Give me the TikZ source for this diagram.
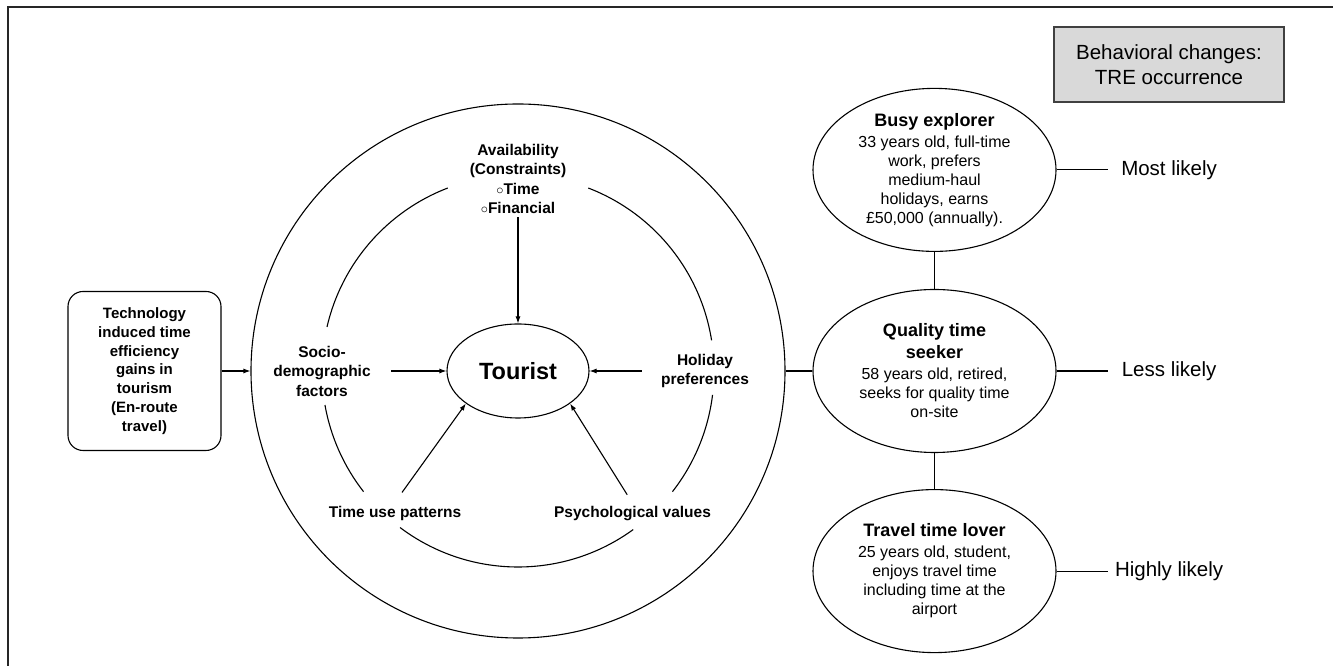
\documentclass[tikz,border=0pt]{standalone}
\usepackage{fontspec}
\setmainfont{Liberation Sans}
\usetikzlibrary{arrows.meta, shapes.geometric, positioning}
\tikzset{> = { Latex[length = 7pt, width = 5pt] }}
\newcommand{\fsz}[2]{\fontsize{#1}{#2}\selectfont}
\newcommand{\ptitle}[1]{{\fsz{18}{22}\bfseries #1}}

\begin{document}
\begin{tikzpicture}[x = 1pt, y = 1pt, line width = 1.1pt,
		factor/.style = { align = center, inner sep = 3pt, font = \fsz{15.5}{19.5}\bfseries },
		persona/.style = { draw, ellipse, minimum width = 243pt, minimum height = 163pt, inner sep = 0pt, align = center, font = \fsz{16}{19} },
		likely/.style = { minimum width = 122pt, inner sep = 0pt, align = center, font = \fsz{20.5}{25} }]
				\useasboundingbox (0,0) rectangle (1333,666);
				\draw [line width = 2pt, black!85] (8,0) -- (8,659) -- (1333,659);

				\node [draw, rounded corners = 15pt, minimum width = 153pt, minimum height = 159pt, align = center, font = \fsz{15}{18.8}\bfseries] (tech) at (144.5,295) {Technology\\induced time\\efficiency\\gains in\\tourism\\(En-route\\travel)};

				\node [draw, circle, minimum size = 534pt, inner sep = 0pt] (outer) at (518,295) {};
				\coordinate (hub) at (518,295);
				\foreach \a/\b in {9/69, 111/167, 190/218, 233/306, 322/353}
					\draw (hub) ++(\a:196) arc[start angle = \a, end angle = \b, radius = 196];

				\node [draw, ellipse, minimum width = 142pt, minimum height = 94pt, inner sep = 0pt, font = \fsz{23.5}{28}\bfseries] (tourist) at (518,295) {Tourist};

				\node [factor] (avail) at (518,487) {Availability\\(Constraints)\\$\circ$Time\\$\circ$Financial};
				\node [factor] (socio) at (322,295) {Socio-\\demographic\\factors};
				\node [factor] (holiday) at (705,295) {Holiday\\preferences};
				\node [factor] (timeuse) at (395,153) {Time use patterns};
				\node [factor] (psych) at (632.5,152) {Psychological values};

				\draw [->] (tech) -- (outer);
				\draw [->] (avail) -- (tourist);
				\draw [->, shorten <= 17pt] (socio) -- (tourist);
				\draw [->, shorten <= 16pt] (holiday) -- (tourist);
				\draw [->, shorten <= 12pt] (timeuse.north) -- (tourist.212);
				\draw [->, shorten <= 10pt] (psych.north) -- (tourist.328);

				\node [persona] (quality) at (934.5,295) {\ptitle{Quality time}\\[3pt]\ptitle{seeker}\\[2pt]58 years old, retired,\\seeks for quality time\\on-site};
				\node [persona, above = 37pt of quality] (busy) {\ptitle{Busy explorer}\\[2pt]33 years old, full-time\\work, prefers\\medium-haul\\holidays, earns\\£50,000 (annually).};
				\node [persona, below = 36pt of quality] (travel) {\ptitle{Travel time lover}\\[2pt]25 years old, student,\\enjoys travel time\\including time at the\\airport};

				\node [likely, right = 51pt of busy] (most) {Most likely};
				\node [likely, right = 51pt of quality] (less) {Less likely};
				\node [likely, right = 51pt of travel] (highly) {Highly likely};

				\node [draw = black!75, fill = black!15, minimum width = 230pt, minimum height = 75pt, align = center, font = \fsz{20.5}{25}] (behav) at (1169,601.5) {Behavioral changes:\\TRE occurrence};

				\draw (outer) -- (quality);
				\draw (busy) -- (quality);
				\draw (quality) -- (travel);
				\draw (busy) -- (most);
				\draw (quality) -- (less);
				\draw (travel) -- (highly);
			\end{tikzpicture}
\end{document}
